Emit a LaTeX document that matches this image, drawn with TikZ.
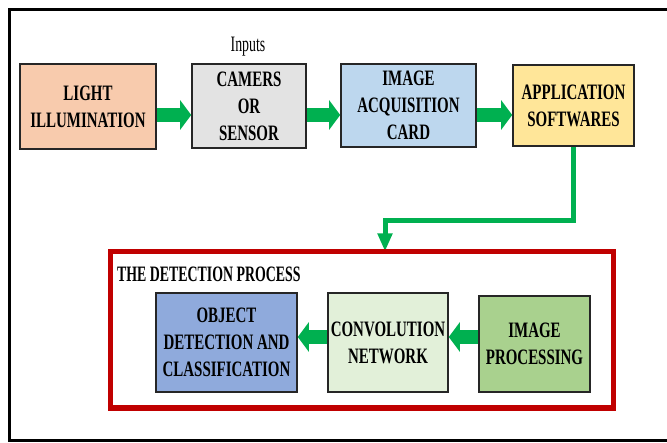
\documentclass[tikz,border=0pt]{standalone}
\usepackage{fontspec}
\usepackage{tikz}
\usetikzlibrary{arrows.meta, positioning}
\newfontfamily\diagfont{Liberation Serif}[FakeStretch=0.63]
\newfontfamily\boxfont{Liberation Serif}[FakeStretch=0.68]
\definecolor{peach}{HTML}{F8CBAD}
\definecolor{lightgrey}{HTML}{E3E3E3}
\definecolor{paleblue}{HTML}{BDD7EE}
\definecolor{paleyellow}{HTML}{FFE699}
\definecolor{steelblue}{HTML}{8FAADC}
\definecolor{palegreen}{HTML}{E2F0D9}
\definecolor{midgreen}{HTML}{A9D18E}
\definecolor{flowgreen}{HTML}{00B050}
\definecolor{framered}{HTML}{C00000}

\begin{document}
\begin{tikzpicture}[x=1pt, y=-1pt, >=Stealth,
  blok/.style={draw=black!85, line width=1.6pt, align=center, inner sep=0pt,
    font=\boxfont\bfseries\fontsize{22}{27}\selectfont},
  flow/.style={flowgreen, line width=14pt, -{Triangle[length=11pt, width=29pt]}}]
  \useasboundingbox (0,0) rectangle (667,443);
  % Vnejsi ramecek
  \draw[line width=3pt] (667,9.5) -| (9.5,441) -- (667,441);

  % Horni rada
  \node[blok, fill=peach, minimum width=136pt, minimum height=85pt] (light) at (88,106.5) {LIGHT\\ILLUMINATION};
  \node[blok, fill=lightgrey, minimum width=114pt, minimum height=84pt] (cam) at (249,106) {CAMERS\\OR\\SENSOR};
  \node[blok, fill=paleblue, minimum width=135pt, minimum height=83pt] (acq) at (408.5,105.5) {IMAGE\\ACQUISITION\\CARD};
  \node[blok, fill=paleyellow, minimum width=121pt, minimum height=81pt] (app) at (573.5,105.5) {APPLICATION\\SOFTWARES};
  \node[font=\diagfont\fontsize{22}{27}\selectfont, anchor=base] (inputs) at (248,52) {Inputs};

  % Sipky horni rady
  \draw[flow] (light.east |- 0,115) -- (cam.west |- 0,115);
  \draw[flow] (cam.east |- 0,115) -- (acq.west |- 0,115);
  \draw[flow] (acq.east |- 0,115) -- (app.west |- 0,115);

  % Detekce
  \coordinate (bend) at (385,220.5);
  \draw[flowgreen, line width=5pt, -{Triangle[length=18pt, width=14pt]}] (app.south) |- (bend) -- (bend |- 0,251.5);
  \node[draw=framered, line width=5.5pt, minimum width=503pt, minimum height=156.5pt] (detect) at (362,330) {};
  \node[font=\diagfont\bfseries\fontsize{22}{27}\selectfont, anchor=base west, inner sep=0pt] (title) at (117,282) {THE DETECTION PROCESS};

  \node[blok, fill=steelblue, minimum width=141pt, minimum height=99pt] (obj) at (226.5,342.5) {OBJECT\\DETECTION AND\\CLASSIFICATION};
  \node[blok, fill=palegreen, minimum width=120pt, minimum height=99pt] (conv) at (388,342.5) {CONVOLUTION\\NETWORK};
  \node[blok, fill=midgreen, minimum width=111pt, minimum height=96pt] (proc) at (534.5,344) {IMAGE\\PROCESSING};

  % Sipky dolni rady
  \draw[flow] (conv.west |- 0,337) -- (obj.east |- 0,337);
  \draw[flow] (proc.west |- 0,337) -- (conv.east |- 0,337);
\end{tikzpicture}
\end{document}
